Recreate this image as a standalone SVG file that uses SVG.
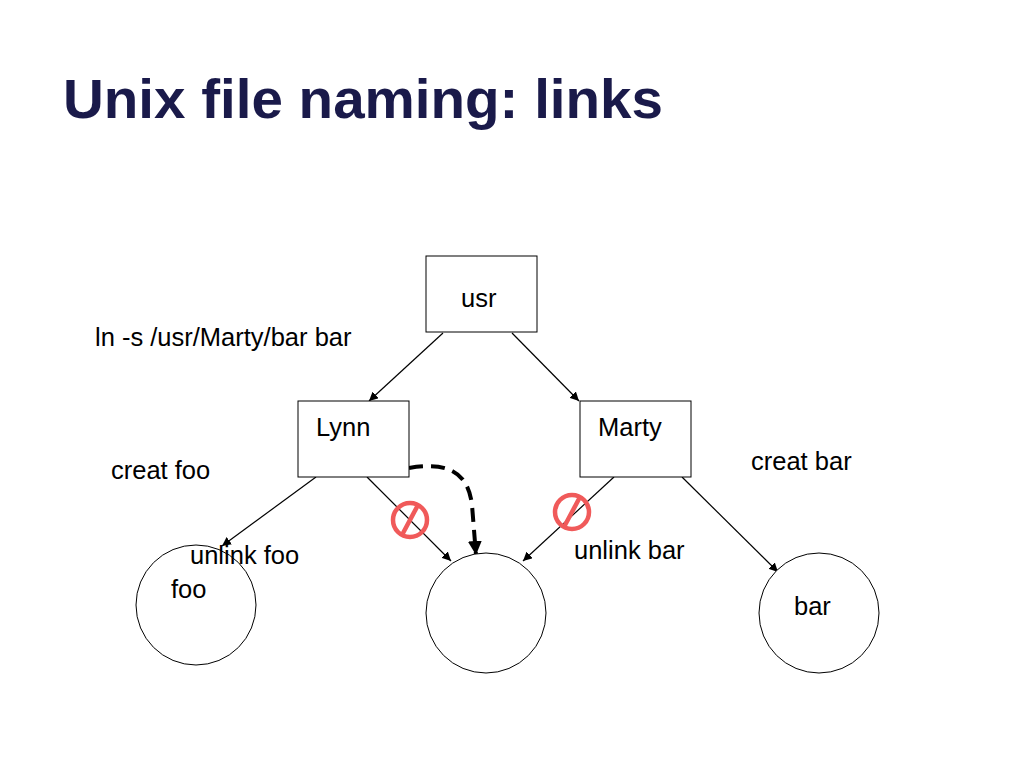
<svg xmlns="http://www.w3.org/2000/svg" width="1024" height="768" viewBox="0 0 1024 768">
<defs>
<style>
.t{font-family:"Liberation Sans",Arial,sans-serif;font-size:25.5px;fill:#000}
.box{fill:#fff;stroke:#000;stroke-width:1}
.c{fill:#fff;stroke:#000;stroke-width:1}
.e{stroke:#000;stroke-width:1.2;fill:none}
.no{fill:none;stroke:#f05a5a;stroke-width:4.5}
</style>
<marker id="ah" viewBox="0 0 10 10" refX="10" refY="5" markerWidth="9" markerHeight="9" orient="auto" markerUnits="userSpaceOnUse"><path d="M0,0 L10,5 L0,10 z" fill="#000"/></marker>
<marker id="ahb" viewBox="0 0 10 10" refX="10" refY="5" markerWidth="14" markerHeight="14" orient="auto" markerUnits="userSpaceOnUse"><path d="M0,0 L10,5 L0,10 z" fill="#000"/></marker>
</defs>
<rect width="1024" height="768" fill="#fff"/>
<text x="63" y="118" font-family="'Liberation Sans',Arial,sans-serif" font-weight="bold" font-size="56" fill="#1a1a4a" textLength="600" lengthAdjust="spacingAndGlyphs">Unix file naming: links</text>
<g id="connectors">
<line class="e" x1="443" y1="333" x2="369" y2="401" marker-end="url(#ah)"/>
<line class="e" x1="512" y1="333" x2="579" y2="401" marker-end="url(#ah)"/>
<line class="e" x1="316" y1="477" x2="222" y2="546" marker-end="url(#ah)"/>
<line class="e" x1="367" y1="477" x2="451" y2="561" marker-end="url(#ah)"/>
<line class="e" x1="614" y1="477" x2="523" y2="561" marker-end="url(#ah)"/>
<line class="e" x1="682" y1="477" x2="778" y2="572" marker-end="url(#ah)"/>
<path d="M409,468 C445,462 468,470 472,505 L476,555" fill="none" stroke="#000" stroke-width="4" stroke-dasharray="14,8" marker-end="url(#ahb)"/>
</g>
<g id="usr"><rect class="box" x="426" y="256" width="111" height="76"/><text class="t" x="461" y="307">usr</text></g>
<g id="lynn"><rect class="box" x="298" y="401" width="111" height="76"/><text class="t" x="316" y="436">Lynn</text></g>
<g id="marty"><rect class="box" x="580" y="401" width="111" height="76"/><text class="t" x="598" y="436">Marty</text></g>
<g id="foo"><circle class="c" cx="196" cy="605" r="60"/><text class="t" x="171" y="598">foo</text></g>
<g id="inode"><circle class="c" cx="486" cy="613" r="60"/></g>
<g id="bar"><circle class="c" cx="819" cy="613" r="60"/><text class="t" x="794" y="615">bar</text></g>
<g id="no1"><circle class="no" cx="410" cy="520" r="17"/><line class="no" x1="418" y1="505" x2="402" y2="535"/></g>
<g id="no2"><circle class="no" cx="572" cy="512" r="17"/><line class="no" x1="580" y1="497" x2="564" y2="527"/></g>
<g id="labels">
<text class="t" x="95" y="346">ln -s /usr/Marty/bar bar</text>
<text class="t" x="111" y="479">creat foo</text>
<text class="t" x="751" y="470">creat bar</text>
<text class="t" x="190" y="564">unlink foo</text>
<text class="t" x="574" y="559">unlink bar</text>
</g>
</svg>
